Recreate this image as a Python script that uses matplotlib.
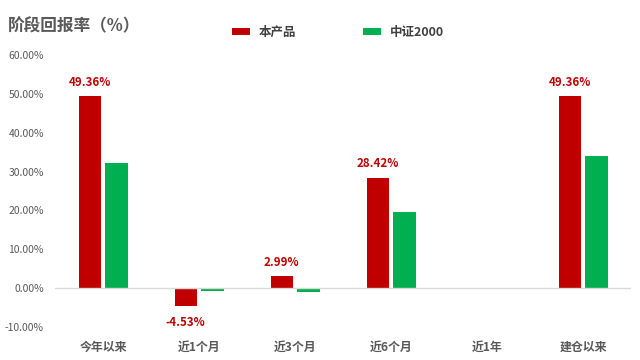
import matplotlib.pyplot as plt
import numpy as np

plt.rcParams['font.family'] = ['Noto Sans CJK SC', 'DejaVu Sans']

categories = ["今年以来", "近1个月", "近3个月", "近6个月", "近1年", "建仓以来"]
product = [49.36, -4.53, 2.99, 28.42, np.nan, 49.36]
index_2000 = [32.2, -0.8, -1.1, 19.6, np.nan, 34.0]
yticks = [-10, 0, 10, 20, 30, 40, 50, 60]

red = "#C00000"
green = "#00B050"
gray = "#595959"


def main():
    fig = plt.figure(figsize=(6.4, 3.6), dpi=100)
    ax = fig.add_axes([0.086, 0.092, 0.9, 0.755])

    x = np.arange(len(categories))
    w = 0.23
    ax.bar(x - 0.14, product, w, color=red, label="本产品")
    ax.bar(x + 0.14, index_2000, w, color=green, label="中证2000")

    # labels only on the product series
    for xi, v in zip(x, product):
        if np.isnan(v):
            continue
        off = 10 if v >= 0 else -12
        ax.annotate(f"{v:.2f}%", (xi - 0.14, v), xytext=(0, off), textcoords="offset points",
                    ha="center", va="center", color=red, fontsize=8.3, fontweight="bold")

    ax.axhline(0, color="#d9d9d9", linewidth=1)
    ax.set_xlim(-0.5, len(categories) - 0.5)
    ax.set_ylim(-10, 60)
    ax.set_yticks(yticks)
    ax.set_yticklabels([f"{t:.2f}%" for t in yticks], color=gray, fontsize=7.5)
    ax.set_xticks(x)
    ax.set_xticklabels(categories, color=gray, fontsize=8.6, fontweight="bold")
    ax.tick_params(length=0, axis="both")
    ax.tick_params(axis="x", pad=10)
    ax.tick_params(axis="y", pad=8)
    for s in ax.spines.values():
        s.set_visible(False)

    fig.text(0.013, 0.927, "阶段回报率（%）", color=gray, fontsize=12, fontweight="bold", va="center")
    leg = fig.legend(loc="center left", bbox_to_anchor=(232 / 640, 0.91), ncol=2, frameon=False,
                     handlelength=1.45, handleheight=0.55, handletextpad=0.7, columnspacing=5.3,
                     borderpad=0, borderaxespad=0, prop={"weight": "bold", "size": 9})
    for t in leg.get_texts():
        t.set_color("#404040")

    plt.savefig("out.png")
    plt.close(fig)


if __name__ == "__main__":
    main()
